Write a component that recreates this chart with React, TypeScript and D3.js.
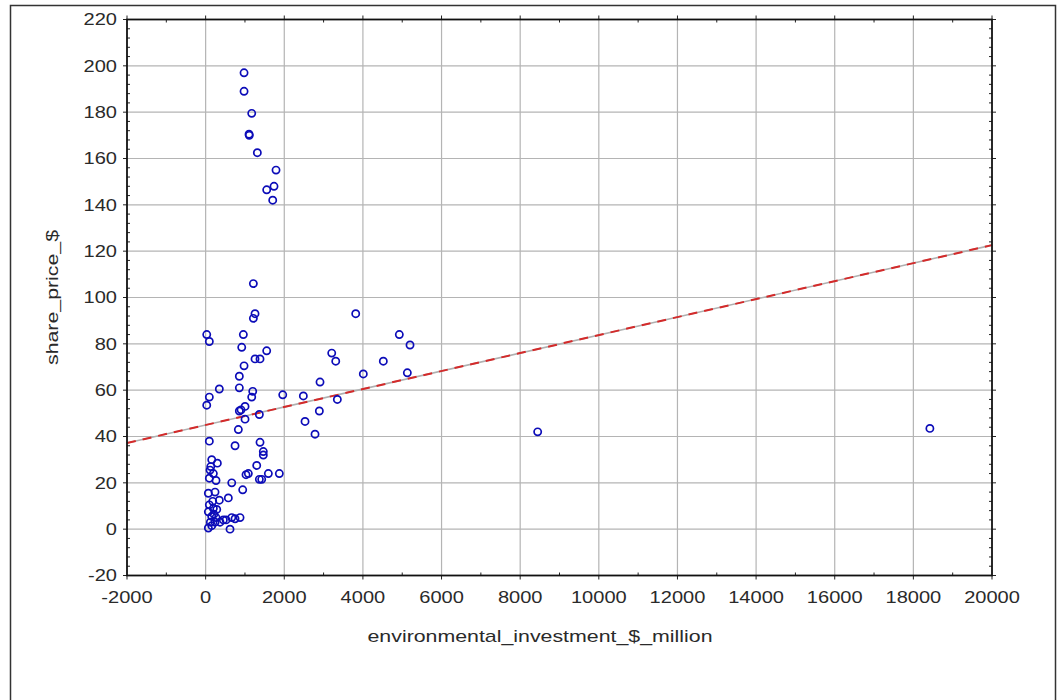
import React from "react";
import * as d3 from "d3";

// Environmental investment ($ million) and share price ($) per company
const investment = [
  977, 977, 1172, 1104, 1110, 1315, 1790, 1553, 1739, 1706,
  1214, 1256, 1214, 28, 94, 959, 918, 1553, 1256, 1383,
  977, 857, 348, 857, 1198, 1961, 2485, 2909, 3207, 3309,
  3350, 28, 94, 1172, 1002, 857, 900, 1366, 2528, 2892,
  2782, 832, 1002, 3817, 4926, 5198, 4519, 4010, 5130, 8445,
  18420, 94, 748, 1383, 1467, 1467, 1299, 1086, 1027, 1366,
  1426, 1595, 1874, 943, 664, 577, 155, 298, 112, 196,
  94, 264, 69, 239, 348, 94, 69, 196, 282, 155,
  264, 450, 664, 748, 875, 620, 69, 155, 239, 366,
  519, 130, 180, 120, 210,
];
const sharePrice = [
  197, 189, 179.5, 170.5, 170, 162.5, 155, 146.5, 148, 142,
  106, 93, 91, 84, 81, 84, 78.5, 77, 73.5, 73.5,
  70.5, 66, 60.5, 61, 59.5, 58, 57.5, 63.5, 76, 72.5,
  56, 53.5, 57, 57, 53, 51, 51.5, 49.5, 46.5, 51,
  41, 43, 47.5, 93, 84, 79.5, 72.5, 67, 67.5, 42,
  43.5, 38, 36, 37.5, 33.5, 32, 27.5, 24, 23.5, 21.5,
  21.5, 24, 24, 17, 20, 13.5, 30, 28.5, 25.5, 24,
  22, 21, 15.5, 16, 12.5, 10.5, 7.5, 9, 8.5, 5.5,
  5, 4, 5, 4.5, 5, 0, 0.5, 1.5, 3, 3,
  4, 27, 12, 3, 6.5,
];

// Fitted line end points
const fitX = [-2000, 20000];
const fitY = [37.2, 122.6];

const xTicks = d3.range(-2000, 20001, 2000);
const yTicks = d3.range(-20, 221, 20);

const W = 1061;
const H = 700;
const left = 127, right = 992, top = 19.5, bottom = 575.5;

export default function App() {
  const x = d3.scaleLinear().domain([-2000, 20000]).range([left, right]);
  const y = d3.scaleLinear().domain([-20, 220]).range([bottom, top]);

  const xMinor = d3.range(-1000, 20000, 2000);
  const yMinor: number[] = [];
  for (let v = -20; v < 220; v += 4) if (v % 20 !== 0) yMinor.push(v);

  const fitLine = d3
    .line<number>()
    .x((_, i) => x(fitX[i]))
    .y((d) => y(d))(fitY) as string;

  const font = "'Liberation Sans', Arial, sans-serif";
  const textColor = "#2a2a2a";
  const blue = "#0c0cb8";

  return (
    <svg
      width={W}
      height={H}
      style={{ position: "absolute", left: 0, top: 0, background: "#fff" }}
    >
      <rect x={10.5} y={5.5} width={1045} height={720} fill="#fff" stroke="#333" strokeWidth={1.5} />

      {/* grid */}
      {xTicks.slice(1, -1).map((t) => (
        <line key={"gx" + t} x1={x(t)} x2={x(t)} y1={top} y2={bottom} stroke="#b4b4b4" strokeWidth={1.2} />
      ))}
      {yTicks.slice(1, -1).map((t) => (
        <line key={"gy" + t} x1={left} x2={right} y1={y(t)} y2={y(t)} stroke="#b4b4b4" strokeWidth={1.2} />
      ))}

      {/* minor ticks */}
      {xMinor.map((t) => (
        <g key={"mx" + t} stroke="#222" strokeWidth={1}>
          <line x1={x(t)} x2={x(t)} y1={bottom} y2={bottom - 3} />
          <line x1={x(t)} x2={x(t)} y1={top} y2={top + 3} />
        </g>
      ))}
      {yMinor.map((t) => (
        <g key={"my" + t} stroke="#222" strokeWidth={1}>
          <line x1={left} x2={left + 3} y1={y(t)} y2={y(t)} />
          <line x1={right} x2={right - 3} y1={y(t)} y2={y(t)} />
        </g>
      ))}
      {/* major ticks */}
      {yTicks.map((t) => (
        <g key={"ty" + t} stroke="#222" strokeWidth={1}>
          <line x1={left - 4} x2={left} y1={y(t)} y2={y(t)} />
          <line x1={right} x2={right + 4} y1={y(t)} y2={y(t)} />
        </g>
      ))}
      {xTicks.map((t) => (
        <g key={"tx" + t} stroke="#222" strokeWidth={1}>
          <line x1={x(t)} x2={x(t)} y1={bottom} y2={bottom + 4} />
          <line x1={x(t)} x2={x(t)} y1={top - 4} y2={top} />
        </g>
      ))}

      {/* fitted line */}
      <path d={fitLine} fill="none" stroke="#b0b0b0" strokeWidth={1.6} />
      <path d={fitLine} fill="none" stroke="#d42a2a" strokeWidth={2} strokeDasharray="9 7" />

      {/* points */}
      {investment.map((v, i) => (
        <circle
          key={"p" + i}
          cx={x(v)}
          cy={y(sharePrice[i])}
          r={3.6}
          fill="none"
          stroke={blue}
          strokeWidth={1.7}
        />
      ))}

      {/* plot frame */}
      <rect x={left} y={top} width={right - left} height={bottom - top} fill="none" stroke="#111" strokeWidth={1.8} />

      {/* tick labels */}
      {yTicks.map((t) => (
        <text
          key={"ly" + t}
          transform={`translate(${left - 10},${y(t)}) scale(1.18,1)`}
          textAnchor="end"
          dominantBaseline="central"
          fontFamily={font}
          fontSize={17}
          fill={textColor}
        >
          {t}
        </text>
      ))}
      {xTicks.map((t) => (
        <text
          key={"lx" + t}
          transform={`translate(${x(t)},${bottom + 22}) scale(1.18,1)`}
          textAnchor="middle"
          dominantBaseline="central"
          fontFamily={font}
          fontSize={17}
          fill={textColor}
        >
          {t}
        </text>
      ))}

      {/* axis titles */}
      <text
        x={540}
        y={642}
        textAnchor="middle"
        fontFamily={font}
        fontSize={17}
        fill={textColor}
        textLength={345}
        lengthAdjust="spacingAndGlyphs"
      >
        environmental_investment_$_million
      </text>
      <text
        transform={`translate(58,${(top + bottom) / 2}) rotate(-90)`}
        textAnchor="middle"
        fontFamily={font}
        fontSize={17}
        fill={textColor}
        textLength={135}
        lengthAdjust="spacingAndGlyphs"
      >
        share_price_$
      </text>
    </svg>
  );
}
